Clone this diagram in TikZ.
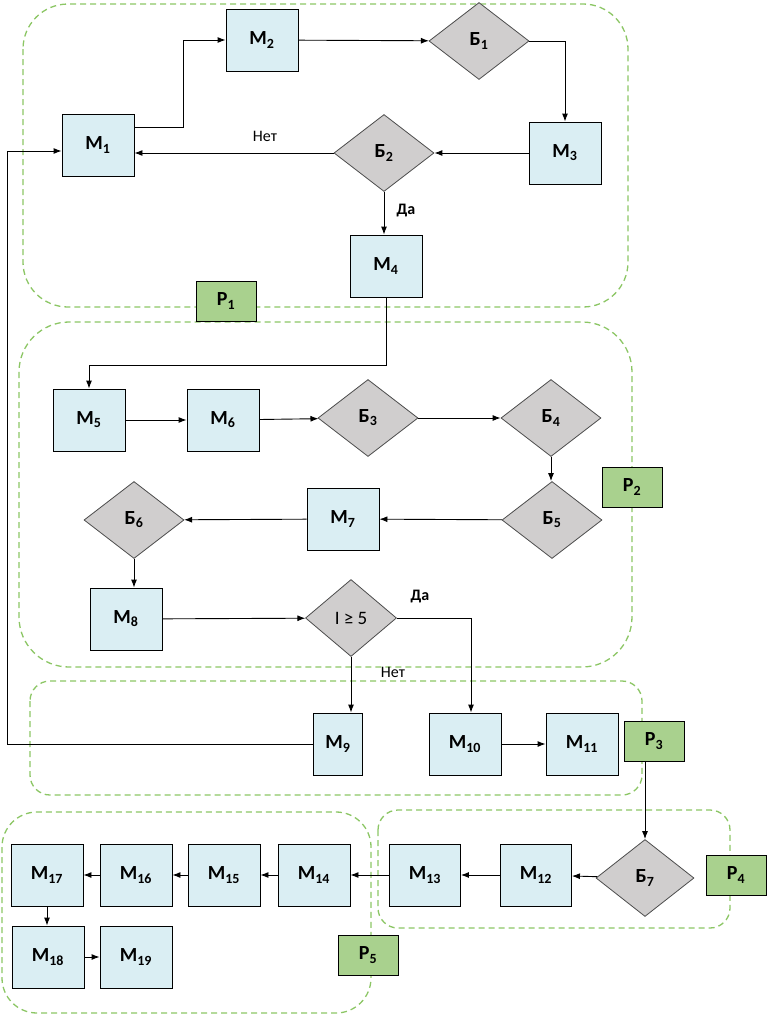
\documentclass[tikz,border=0pt]{standalone}
\usepackage{fontspec}
\setmainfont{Carlito}
\usetikzlibrary{shapes.geometric, positioning, arrows.meta}
\definecolor{boxblue}{HTML}{DAEEF3}
\definecolor{diagray}{HTML}{D0CECE}
\definecolor{partgreen}{HTML}{A9D18E}
\definecolor{dashgreen}{HTML}{8CC665}
\newcommand{\ml}[1]{М\textsubscript{#1}}
\newcommand{\bl}[1]{Б\textsubscript{#1}}
\newcommand{\rl}[1]{Р\textsubscript{#1}}
\tikzset{
  >={Latex[length=8pt,width=6pt]},
  x=1pt, y=-1pt,
  node distance=89pt,
  every node/.style={font=\fontsize{20}{24}\selectfont\bfseries},
  block/.style={draw, line width=0.9pt, fill=boxblue, minimum width=72pt, minimum height=62pt, inner sep=0pt},
  cond/.style={diamond, draw=black!70, line width=0.8pt, fill=diagray, minimum width=100pt, minimum height=77pt, inner sep=0pt, aspect=1.3},
  part/.style={draw, line width=0.9pt, fill=partgreen, minimum width=60pt, minimum height=40pt, inner sep=0pt},
  region/.style={draw=dashgreen, line width=1.3pt, dash pattern=on 6pt off 4pt},
  flow/.style={->, line width=0.9pt},
  yeslabel/.style={font=\fontsize{16}{19}\selectfont\bfseries},
  nolabel/.style={font=\fontsize{16}{19}\selectfont},
}

\begin{document}
\begin{tikzpicture}
  \useasboundingbox (0,0) rectangle (768,1015);

  % areas
  \draw[region, rounded corners=45pt] (23,4) rectangle (628,307);
  \draw[region, rounded corners=50pt] (19,322) rectangle (632,667);
  \draw[region, rounded corners=20pt] (30,681) rectangle (642,795);
  \draw[region, rounded corners=20pt] (378,810) rectangle (730,928);
  \draw[region, rounded corners=35pt] (2,812) rectangle (371,1013);

  % first part
  \node[block] (m1) at (98,145) {\ml{1}};
  \node[block] (m2) at (262,40) {\ml{2}};
  \node[cond]  (b1) at (479,41) {\bl{1}};
  \node[block] (m3) at (565,153) {\ml{3}};
  \node[cond]  (b2) at (384,153) {\bl{2}};
  \node[block] (m4) at (386,266) {\ml{4}};
  \node[part]  (p1) at (226,301) {\rl{1}};

  % second part
  \node[block] (m5) at (89,420) {\ml{5}};
  \node[block, right of=m5, node distance=134pt] (m6) {\ml{6}};
  \node[cond]  (b3) at (368,418) {\bl{3}};
  \node[cond, right of=b3, node distance=183pt] (b4) {\bl{4}};
  \node[cond]  (b5) at (552,520) {\bl{5}};
  \node[block] (m7) at (343,519) {\ml{7}};
  \node[cond]  (b6) at (134,520) {\bl{6}};
  \node[block] (m8) at (126,619) {\ml{8}};
  \node[cond, minimum width=91pt, font=\fontsize{19}{23}\selectfont] (bi) at (351,618) {I ≥ 5};
  \node[part]  (p2) at (632,487) {\rl{2}};

  % third part
  \node[block, minimum width=49pt] (m9) at (338,744) {\ml{9}};
  \node[block] (m10) at (465,744) {\ml{10}};
  \node[block, right of=m10, node distance=117pt] (m11) {\ml{11}};
  \node[part]  (p3) at (654,741) {\rl{3}};

  % fourth and fifth parts
  \node[cond, minimum width=98pt] (b7) at (645,878) {\bl{7}};
  \node[block, minimum width=71pt] (m12) at (536,875) {\ml{12}};
  \node[block, minimum width=71pt, left of=m12, node distance=111pt] (m13) {\ml{13}};
  \node[block, left of=m13, node distance=111pt] (m14) {\ml{14}};
  \node[block, left of=m14, node distance=90pt] (m15) {\ml{15}};
  \node[block, left of=m15, node distance=88pt] (m16) {\ml{16}};
  \node[block, left of=m16] (m17) {\ml{17}};
  \node[block] (m18) at (48,957) {\ml{18}};
  \node[block, right of=m18, node distance=88pt] (m19) {\ml{19}};
  \node[part]  (p4) at (736,875) {\rl{4}};
  \node[part]  (p5) at (368,955) {\rl{5}};

  % answers
  \node[nolabel]  (no1)  at (265,136) {Нет};
  \node[yeslabel] (yes1) at (406,211) {Да};
  \node[yeslabel] (yes2) at (420,597) {Да};
  \node[nolabel]  (no2)  at (393,672) {Нет};

  % connections
  \draw[flow] ([yshift=18pt]m1.east) -- ++(49,0) |- (m2.west);
  \draw[flow] (b1.east) -| (m3.north);
  \draw[flow] (b2.west) -- (b2.west -| m1.east);
  \draw[flow] (b2.south) -- (b2.south |- m4.north);
  \draw[flow] (m4.south) -- ++(0,68) -| (m5.north);
  \draw[flow] (b4.south) -- (b4.south |- b5.north);
  \draw[flow] (b6.south) -- (b6.south |- m8.north);
  \draw[flow] (bi.east) -| ([xshift=6pt]m10.north);
  \draw[flow] (bi.south) -- (bi.south |- m9.north);
  \draw[flow] (m9.west) -- ++(-306,0) |- ([yshift=-6pt]m1.west);
  \draw[flow] (b7.north |- p3.south) -- (b7.north);
  \draw[flow] (m17.south) -- (m17.south |- m18.north);
  \draw[flow] (m2) edge (b1)
              (m3) edge (b2)
              (m5) edge (m6)
              (m6) edge (b3)
              (b3) edge (b4)
              (b5) edge (m7)
              (m7) edge (b6)
              (m8) edge (bi)
              (m10) edge (m11)
              (b7) edge (m12)
              (m12) edge (m13)
              (m13) edge (m14)
              (m14) edge (m15)
              (m15) edge (m16)
              (m16) edge (m17)
              (m18) edge (m19);
\end{tikzpicture}
\end{document}
